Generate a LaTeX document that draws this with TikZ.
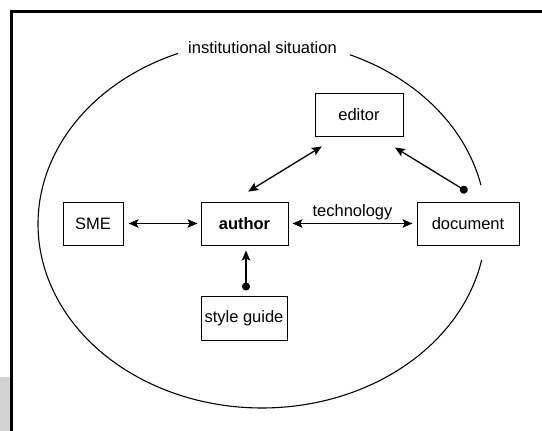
\documentclass[tikz,border=0pt]{standalone}
\usepackage{fontspec}
\setmainfont{Liberation Sans}
\usetikzlibrary{arrows.meta}
\begin{document}
\begin{tikzpicture}[x=1pt,y=-1pt, font=\fontsize{16.5}{20}\selectfont,
  box/.style={draw, line width=1pt, inner sep=0pt, minimum height=43pt},
  link/.style={line width=1.3pt, >={Stealth[length=10pt,width=8.5pt,inset=2pt]}},
  dotlink/.style={link, {Circle[length=8pt]}->},
  frameline/.style={line width=3pt},
  situation/.style={line width=1.1pt}]
\useasboundingbox (0,0) rectangle (542,431);
\fill[gray!35] (0,377) rectangle (10,431);
\draw[frameline] (11.5,431) -- (11.5,11.5) -- (542,11.5);
% institutional situation
\draw[situation] plot[domain=12.2:66.9, samples=60, smooth] ({262+224*cos(\x)},{224-184*sin(\x)});
\draw[situation] plot[domain=112:348.7, samples=160, smooth] ({262+224*cos(\x)},{224-184*sin(\x)});
\node (situationlabel) at (262.5,48) {institutional situation};
% boxes
\node[box, minimum width=60pt] (sme) at (93,223.5) {SME};
\node[box, minimum width=87pt, font=\fontsize{16.5}{20}\selectfont\bfseries] (author) at (244.5,223.5) {author};
\node[box, minimum width=102pt] (document) at (468,223.5) {document};
\node[box, minimum width=88pt] (editor) at (359,114.5) {editor};
\node[box, minimum width=86pt, minimum height=44pt] (style) at (244,318) {style guide};
% connectors
\draw[link, <->, shorten <=5pt, shorten >=3pt] (sme) -- (author);
\draw[link, <->, shorten <=4pt, shorten >=4pt] (author) -- node[anchor=base, yshift=7pt] (techlabel) {technology} (document);
\draw[link, <->, shorten <=19pt, shorten >=19pt] ([xshift=-12.5pt]author.north) -- ([xshift=-21pt]editor.south);
\draw[dotlink, shorten <=18.5pt, shorten >=21pt] ([xshift=15pt]document.north) -- ([xshift=18pt]editor.south);
\draw[dotlink, shorten <=5pt, shorten >=5pt] ([xshift=2pt]style.north) -- ([xshift=1.5pt]author.south);
\end{tikzpicture}
\end{document}
